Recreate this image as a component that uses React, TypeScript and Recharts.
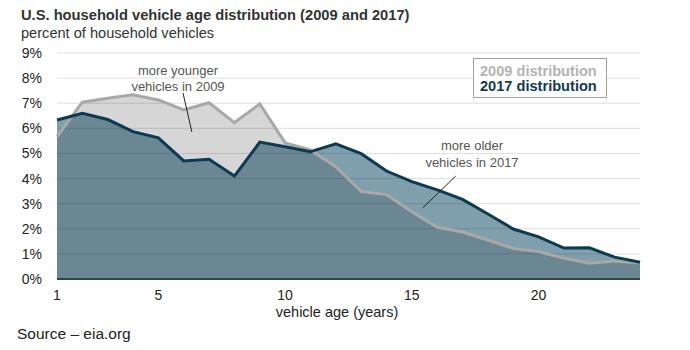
import React from 'react';
import { ComposedChart, Area, Line, XAxis, YAxis, ReferenceLine } from 'recharts';

const ages = [1, 2, 3, 4, 5, 6, 7, 8, 9, 10, 11, 12, 13, 14, 15, 16, 17, 18, 19, 20, 21, 22, 23, 24];
const share2009 = [5.66, 7.04, 7.2, 7.34, 7.13, 6.73, 7.02, 6.23, 6.97, 5.42, 5.14, 4.47, 3.48, 3.36, 2.68, 2.06, 1.87, 1.55, 1.22, 1.09, 0.83, 0.63, 0.72, 0.64];
const share2017 = [6.33, 6.6, 6.35, 5.87, 5.62, 4.7, 4.77, 4.1, 5.45, 5.27, 5.07, 5.38, 4.99, 4.3, 3.88, 3.55, 3.17, 2.59, 1.99, 1.68, 1.23, 1.24, 0.87, 0.67];
const yTicks = [0, 1, 2, 3, 4, 5, 6, 7, 8, 9];
const xTicks = [1, 5, 10, 15, 20];
const gridValues = [1, 2, 3, 4, 5, 6, 7, 8, 9];
const youngerLeader = [{ x: 5.97, y: 7.41 }, { x: 6.32, y: 5.86 }];
const olderLeader = [{ x: 16.73, y: 4.1 }, { x: 15.43, y: 2.83 }];

const FONT = '"Liberation Sans", Arial, sans-serif';

type Row = { age: number; v2009: number; v2017: number; lower: number };

function buildRows(): Row[] {
  const rows: Row[] = [];
  for (let i = 0; i < ages.length; i++) {
    const a = share2009[i];
    const b = share2017[i];
    rows.push({ age: ages[i], v2009: a, v2017: b, lower: Math.min(a, b) });
    if (i < ages.length - 1) {
      const d0 = a - b;
      const d1 = share2009[i + 1] - share2017[i + 1];
      if (d0 * d1 < 0) {
        const t = d0 / (d0 - d1);
        const x = ages[i] + t * (ages[i + 1] - ages[i]);
        const y = a + t * (share2009[i + 1] - a);
        rows.push({ age: x, v2009: y, v2017: y, lower: y });
      }
    }
  }
  return rows;
}

const rows = buildRows();

export default function App() {
  return (
    <div style={{ position: 'absolute', left: 0, top: 0, width: 690, height: 350, background: '#fff', fontFamily: FONT }}>
      <ComposedChart width={690} height={350} data={rows} margin={{ top: 53, right: 50, left: 0, bottom: 41 }}>
        <XAxis
          dataKey="age"
          type="number"
          domain={[1, 24]}
          ticks={xTicks}
          interval={0}
          height={30}
          tickLine={false}
          tickSize={6}
          tickMargin={5}
          axisLine={{ stroke: '#34444c', strokeWidth: 2 }}
          tick={{ fill: '#222', fontSize: 14, fontFamily: FONT }}
        />
        <YAxis
          type="number"
          domain={[0, 9]}
          ticks={yTicks}
          interval={0}
          width={57}
          tickLine={false}
          axisLine={false}
          tickSize={6}
          tickMargin={9}
          tickFormatter={(v: number) => `${v}%`}
          tick={{ fill: '#222', fontSize: 14, fontFamily: FONT }}
        />
        <Area dataKey="v2009" type="linear" fill="#d6d6d6" fillOpacity={1} stroke="none" isAnimationActive={false} />
        <Area dataKey="v2017" type="linear" fill="#809fad" fillOpacity={1} stroke="none" isAnimationActive={false} />
        <Area dataKey="lower" type="linear" fill="#6b8794" fillOpacity={1} stroke="none" isAnimationActive={false} />
        {gridValues.map((g) => (
          <ReferenceLine key={g} y={g} stroke="#000" strokeOpacity={0.13} strokeWidth={1} />
        ))}
        <Line dataKey="v2009" type="linear" stroke="#a8a8a8" strokeWidth={3} dot={false} activeDot={false} isAnimationActive={false} />
        <Line dataKey="v2017" type="linear" stroke="#0e3a51" strokeWidth={3} dot={false} activeDot={false} isAnimationActive={false} />
        <ReferenceLine segment={youngerLeader} stroke="#222" strokeWidth={1} />
        <ReferenceLine segment={olderLeader} stroke="#222" strokeWidth={1} />
      </ComposedChart>
      <svg width={690} height={350} style={{ position: 'absolute', left: 0, top: 0, pointerEvents: 'none' }}>
        <text x={21} y={15} dominantBaseline="central" fontFamily={FONT} fontSize={14.7} fontWeight="bold" fill="#333">
          U.S. household vehicle age distribution (2009 and 2017)
        </text>
        <text x={21} y={33} dominantBaseline="central" fontFamily={FONT} fontSize={14.6} fill="#333">
          percent of household vehicles
        </text>
        <text x={178} y={70} textAnchor="middle" dominantBaseline="central" fontFamily={FONT} fontSize={13} fill="#555">
          more younger
        </text>
        <text x={178} y={86} textAnchor="middle" dominantBaseline="central" fontFamily={FONT} fontSize={13} fill="#555">
          vehicles in 2009
        </text>
        <text x={472} y={145} textAnchor="middle" dominantBaseline="central" fontFamily={FONT} fontSize={13} fill="#555">
          more older
        </text>
        <text x={472} y={162} textAnchor="middle" dominantBaseline="central" fontFamily={FONT} fontSize={13} fill="#555">
          vehicles in 2017
        </text>
        <rect x={473.5} y={58.5} width={133} height={39} fill="#fff" stroke="#a0a0a0" strokeWidth={1} />
        <text x={480} y={71} dominantBaseline="central" fontFamily={FONT} fontSize={14.6} fontWeight="bold" fill="#b3b3b3">
          2009 distribution
        </text>
        <text x={480} y={86} dominantBaseline="central" fontFamily={FONT} fontSize={14.6} fontWeight="bold" fill="#0f3b55">
          2017 distribution
        </text>
        <text x={337} y={312} textAnchor="middle" dominantBaseline="central" fontFamily={FONT} fontSize={14.5} fill="#222">
          vehicle age (years)
        </text>
        <text x={17} y={333} dominantBaseline="central" fontFamily={FONT} fontSize={15.5} fill="#222">
          Source – eia.org
        </text>
      </svg>
    </div>
  );
}
